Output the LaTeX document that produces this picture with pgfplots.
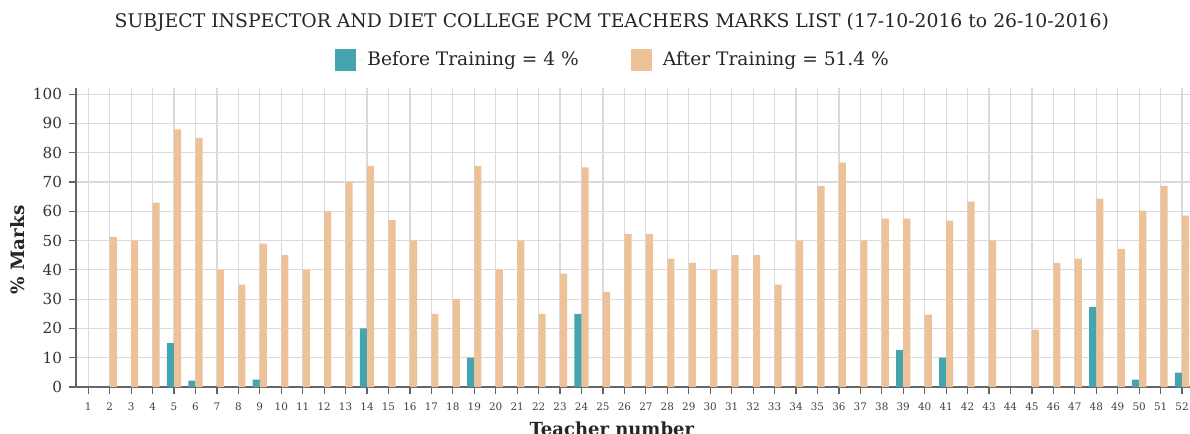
\documentclass[border=0pt]{standalone}
\usepackage{fontspec}
\setmainfont{DejaVu Serif}
\usepackage{pgfplots}
\pgfplotsset{compat=1.18}

\definecolor{before}{RGB}{69,165,174}
\definecolor{after}{RGB}{237,194,152}
\definecolor{gridc}{RGB}{218,218,218}
\definecolor{axisc}{RGB}{100,100,100}

% teacher, before, after
\pgfplotstableread{
t  b    a
1  0    0
2  0    51.3
3  0    50
4  0    63
5  15   88
6  2.2  85.1
7  0    40
8  0    35
9  2.5  49
10 0    45
11 0    40
12 0    60
13 0    70
14 20   75.5
15 0    57
16 0    50
17 0    25
18 0    30
19 10   75.5
20 0    40
21 0    50
22 0    25
23 0    38.7
24 25   75
25 0    32.5
26 0    52.3
27 0    52.3
28 0    43.8
29 0    42.4
30 0    40
31 0    45
32 0    45
33 0    35
34 0    50
35 0    68.7
36 0    76.6
37 0    50
38 0    57.5
39 12.7 57.5
40 0    24.7
41 10   56.8
42 0    63.3
43 0    50
44 0    0
45 0    19.6
46 0    42.4
47 0    43.8
48 27.4 64.3
49 0    47.2
50 2.5  60.2
51 0    68.7
52 4.9  58.5
}\marks

\begin{document}
\begin{tikzpicture}
\begin{axis}[
    at={(0,0)}, anchor=origin,
    scale only axis,
    width=557pt, height=149.5pt,
    xmin=0.43, xmax=52.37,
    ymin=0, ymax=102.1,
    ybar,
    bar width=0.33,
    axis x line*=bottom,
    axis y line*=left,
    axis line style={axisc, line width=0.7pt},
    xtick={1,...,52},
    ytick={0,10,...,100},
    tick style={axisc, line width=0.6pt},
    tick align=outside,
    major tick length=3.5pt,
    xticklabel style={font=\fontsize{5.2}{6}\selectfont, text=black!75, yshift=-1pt},
    yticklabel style={font=\fontsize{7.6}{9}\selectfont, text=black!80},
    /pgf/number format/assume math mode=true,
    grid=major,
    major grid style={gridc, line width=0.6pt},
    title={SUBJECT INSPECTOR AND DIET COLLEGE PCM TEACHERS MARKS LIST (17-10-2016 to 26-10-2016)},
    title style={font=\fontsize{9.4}{10}\selectfont, text=black!85, at={(axis description cs:0.481,1.18)}, anchor=center},
    xlabel={Teacher number},
    xlabel style={font=\fontsize{9}{11}\selectfont\bfseries, text=black!85, at={(axis description cs:0.481,-0.115)}, anchor=north, inner sep=0pt},
    ylabel={\% Marks},
    ylabel style={font=\fontsize{9.2}{10}\selectfont\bfseries, text=black!85, at={(axis description cs:-0.052,0.458)}, anchor=center, rotate=0},
    legend columns=2,
    legend style={draw=none, fill=none, at={(axis description cs:0.483,1.094)}, anchor=center,
        font=\fontsize{9.3}{10}\selectfont, text=black!85,
        /tikz/every even column/.append style={column sep=24pt}},
    legend image code/.code={\fill[#1] (0pt,-5.5pt) rectangle (10.5pt,5.5pt); \path (0pt,0pt) -- (14pt,0pt);},
]
\addplot[fill=before, draw=none, bar shift=-0.165] table[x=t, y=b] {\marks};
\addplot[fill=after, draw=none, bar shift=0.165] table[x=t, y=a] {\marks};
\legend{Before Training = 4 \%, After Training = 51.4 \%}
\end{axis}
\pgfresetboundingbox
\path (-38pt,-23.5pt) rectangle (557pt,193.5pt);
\end{tikzpicture}
\end{document}
